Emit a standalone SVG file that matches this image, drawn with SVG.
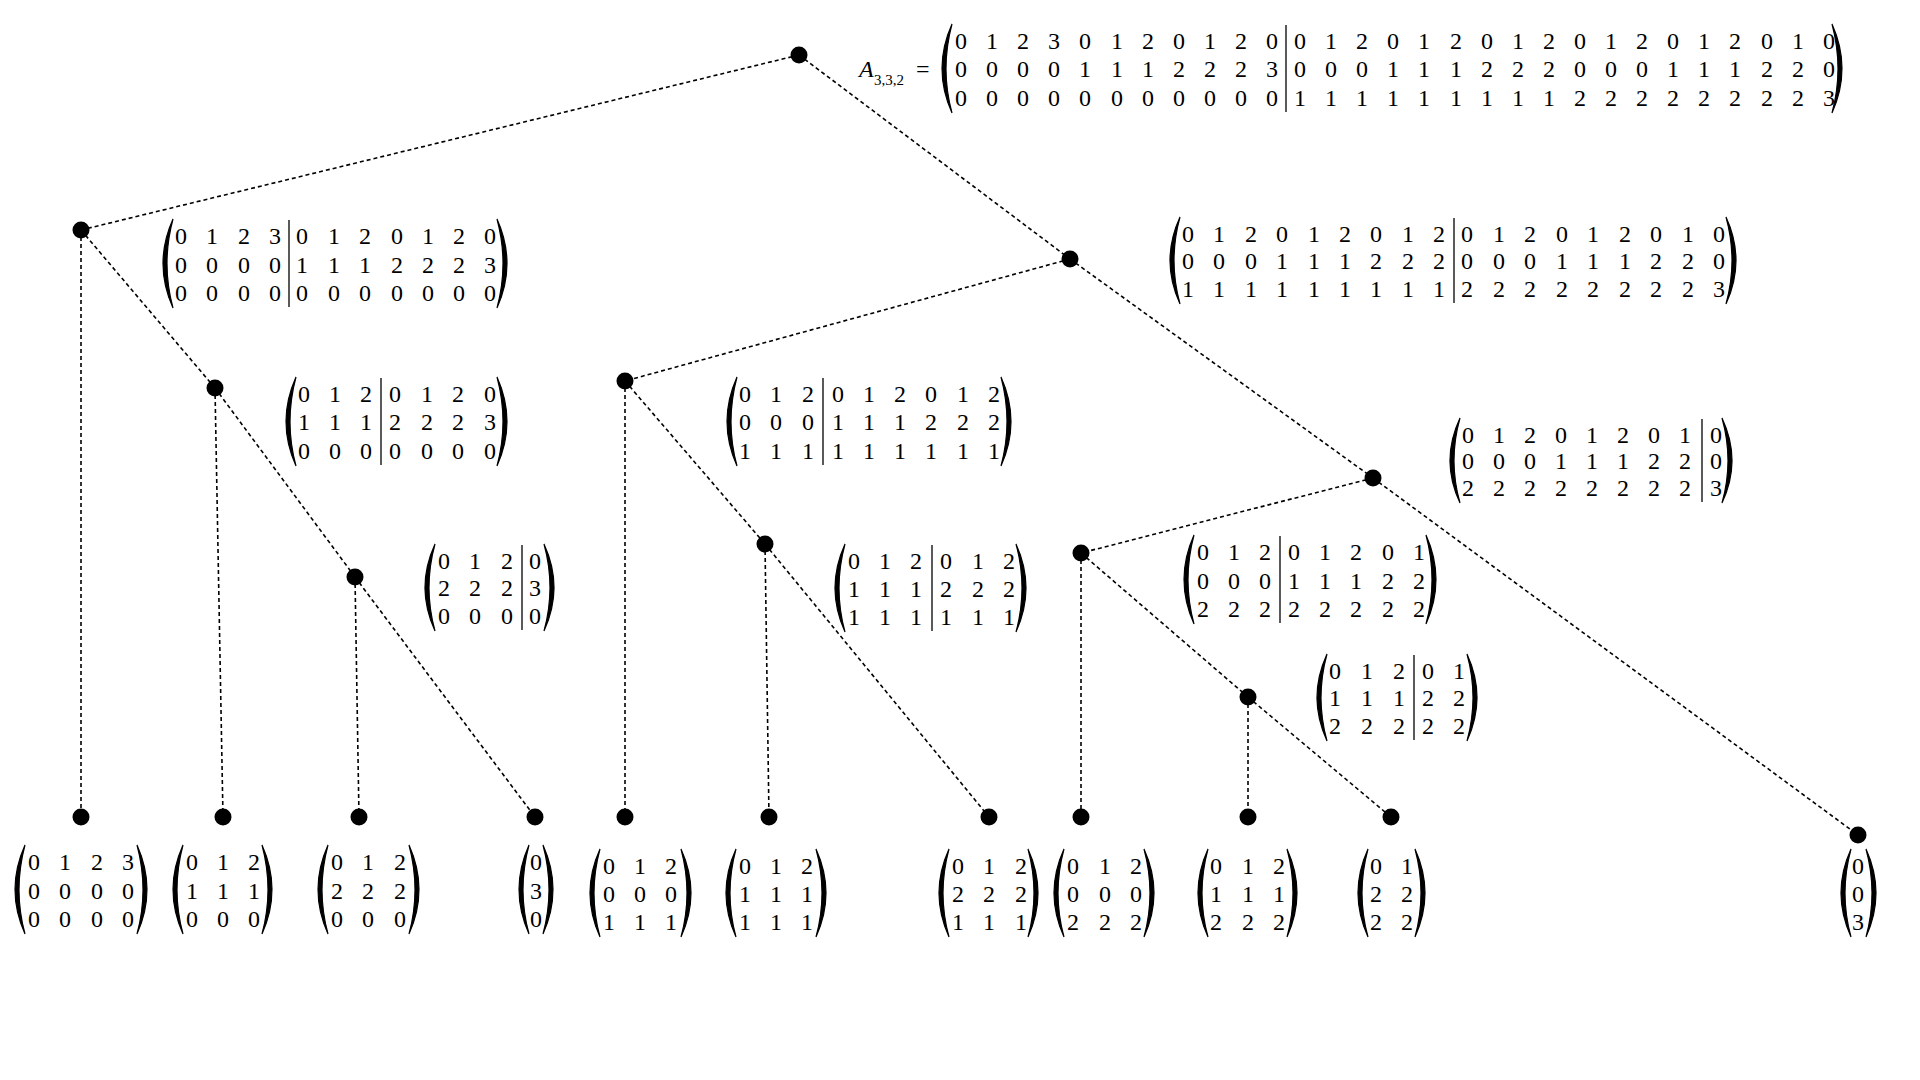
<svg xmlns="http://www.w3.org/2000/svg" width="1920" height="1080" viewBox="0 0 1920 1080">
<style>
text{font-family:'Liberation Serif','Times New Roman','DejaVu Serif',serif}
.d{font-size:24px;text-anchor:middle;fill:#000}
.p{fill:#000;stroke:#000;stroke-width:1.2}
.b{stroke:#000;stroke-width:1.3}
.e{stroke:#000;stroke-width:1.6;stroke-dasharray:4 3;fill:none}
.n{fill:#000}
</style>
<rect width="1920" height="1080" fill="#fff"/>
<g id="connectors">
<line class="e" x1="799" y1="55" x2="81" y2="230"/>
<line class="e" x1="799" y1="55" x2="1070" y2="259"/>
<line class="e" x1="81" y1="230" x2="81" y2="817"/>
<line class="e" x1="81" y1="230" x2="215" y2="388"/>
<line class="e" x1="215" y1="388" x2="223" y2="817"/>
<line class="e" x1="215" y1="388" x2="355" y2="577"/>
<line class="e" x1="355" y1="577" x2="359" y2="817"/>
<line class="e" x1="355" y1="577" x2="535" y2="817"/>
<line class="e" x1="1070" y1="259" x2="625" y2="381"/>
<line class="e" x1="1070" y1="259" x2="1373" y2="478"/>
<line class="e" x1="625" y1="381" x2="625" y2="817"/>
<line class="e" x1="625" y1="381" x2="765" y2="544"/>
<line class="e" x1="765" y1="544" x2="769" y2="817"/>
<line class="e" x1="765" y1="544" x2="989" y2="817"/>
<line class="e" x1="1373" y1="478" x2="1081" y2="553"/>
<line class="e" x1="1373" y1="478" x2="1858" y2="835"/>
<line class="e" x1="1081" y1="553" x2="1081" y2="817"/>
<line class="e" x1="1081" y1="553" x2="1248" y2="697"/>
<line class="e" x1="1248" y1="697" x2="1248" y2="817"/>
<line class="e" x1="1248" y1="697" x2="1391" y2="817"/>
</g>
<g id="nodes">
<circle class="n" cx="799" cy="55" r="8.5"/>
<circle class="n" cx="81" cy="230" r="8.5"/>
<circle class="n" cx="1070" cy="259" r="8.5"/>
<circle class="n" cx="215" cy="388" r="8.5"/>
<circle class="n" cx="355" cy="577" r="8.5"/>
<circle class="n" cx="625" cy="381" r="8.5"/>
<circle class="n" cx="1373" cy="478" r="8.5"/>
<circle class="n" cx="765" cy="544" r="8.5"/>
<circle class="n" cx="1081" cy="553" r="8.5"/>
<circle class="n" cx="1248" cy="697" r="8.5"/>
<circle class="n" cx="81" cy="817" r="8.5"/>
<circle class="n" cx="223" cy="817" r="8.5"/>
<circle class="n" cx="359" cy="817" r="8.5"/>
<circle class="n" cx="535" cy="817" r="8.5"/>
<circle class="n" cx="625" cy="817" r="8.5"/>
<circle class="n" cx="769" cy="817" r="8.5"/>
<circle class="n" cx="989" cy="817" r="8.5"/>
<circle class="n" cx="1081" cy="817" r="8.5"/>
<circle class="n" cx="1248" cy="817" r="8.5"/>
<circle class="n" cx="1391" cy="817" r="8.5"/>
<circle class="n" cx="1858" cy="835" r="8.5"/>
</g>
<g id="m-root">
<text x="859" y="77" font-size="24" font-style="italic">A</text>
<text x="874" y="85" font-size="15">3,3,2</text>
<text x="916" y="77" font-size="24">=</text>
<path class="p" d="M952 24 Q932 68.5 952 113 Q940 68.5 952 24Z"/>
<path class="p" d="M1832 24 Q1852 68.5 1832 113 Q1844 68.5 1832 24Z"/>
<line class="b" x1="1286" y1="25" x2="1286" y2="112"/>
<text class="d" x="961 992 1023 1054 1085 1117 1148 1179 1210 1241 1272 1300 1331 1362 1393 1424 1456 1487 1518 1549 1580 1611 1642 1673 1704 1735 1767 1798 1829" y="49">01230120120012012012012012010</text>
<text class="d" x="961 992 1023 1054 1085 1117 1148 1179 1210 1241 1272 1300 1331 1362 1393 1424 1456 1487 1518 1549 1580 1611 1642 1673 1704 1735 1767 1798 1829" y="77">00001112223000111222000111220</text>
<text class="d" x="961 992 1023 1054 1085 1117 1148 1179 1210 1241 1272 1300 1331 1362 1393 1424 1456 1487 1518 1549 1580 1611 1642 1673 1704 1735 1767 1798 1829" y="106">00000000000111111111222222223</text>
</g>
<g id="m-l1">
<path class="p" d="M173 219 Q153 263.5 173 308 Q161 263.5 173 219Z"/>
<path class="p" d="M497 219 Q517 263.5 497 308 Q509 263.5 497 219Z"/>
<line class="b" x1="289" y1="220" x2="289" y2="307"/>
<text class="d" x="181 212 244 275 302 334 365 397 428 459 490" y="244">01230120120</text>
<text class="d" x="181 212 244 275 302 334 365 397 428 459 490" y="273">00001112223</text>
<text class="d" x="181 212 244 275 302 334 365 397 428 459 490" y="301">00000000000</text>
</g>
<g id="m-r1">
<path class="p" d="M1180 217 Q1160 260.5 1180 304 Q1168 260.5 1180 217Z"/>
<path class="p" d="M1726 217 Q1746 260.5 1726 304 Q1738 260.5 1726 217Z"/>
<line class="b" x1="1454" y1="218" x2="1454" y2="303"/>
<text class="d" x="1188 1219 1251 1282 1314 1345 1376 1408 1439 1467 1499 1530 1562 1593 1625 1656 1688 1719" y="242">012012012012012010</text>
<text class="d" x="1188 1219 1251 1282 1314 1345 1376 1408 1439 1467 1499 1530 1562 1593 1625 1656 1688 1719" y="269">000111222000111220</text>
<text class="d" x="1188 1219 1251 1282 1314 1345 1376 1408 1439 1467 1499 1530 1562 1593 1625 1656 1688 1719" y="297">111111111222222223</text>
</g>
<g id="m-l1a">
<path class="p" d="M296 377 Q276 421.5 296 466 Q284 421.5 296 377Z"/>
<path class="p" d="M497 377 Q517 421.5 497 466 Q509 421.5 497 377Z"/>
<line class="b" x1="381" y1="378" x2="381" y2="465"/>
<text class="d" x="304 335 366 395 427 458 490" y="402">0120120</text>
<text class="d" x="304 335 366 395 427 458 490" y="430">1112223</text>
<text class="d" x="304 335 366 395 427 458 490" y="459">0000000</text>
</g>
<g id="m-r1a">
<path class="p" d="M737 377 Q717 421.5 737 466 Q725 421.5 737 377Z"/>
<path class="p" d="M1001 377 Q1021 421.5 1001 466 Q1013 421.5 1001 377Z"/>
<line class="b" x1="823" y1="378" x2="823" y2="465"/>
<text class="d" x="745 776 808 838 869 900 931 963 994" y="402">012012012</text>
<text class="d" x="745 776 808 838 869 900 931 963 994" y="430">000111222</text>
<text class="d" x="745 776 808 838 869 900 931 963 994" y="459">111111111</text>
</g>
<g id="m-r1b">
<path class="p" d="M1460 418 Q1440 460.5 1460 503 Q1448 460.5 1460 418Z"/>
<path class="p" d="M1722 418 Q1742 460.5 1722 503 Q1734 460.5 1722 418Z"/>
<line class="b" x1="1702" y1="419" x2="1702" y2="502"/>
<text class="d" x="1468 1499 1530 1561 1592 1623 1654 1685 1716" y="443">012012010</text>
<text class="d" x="1468 1499 1530 1561 1592 1623 1654 1685 1716" y="469">000111220</text>
<text class="d" x="1468 1499 1530 1561 1592 1623 1654 1685 1716" y="496">222222223</text>
</g>
<g id="m-l1b">
<path class="p" d="M435 544 Q415 587.5 435 631 Q423 587.5 435 544Z"/>
<path class="p" d="M544 544 Q564 587.5 544 631 Q556 587.5 544 544Z"/>
<line class="b" x1="522" y1="545" x2="522" y2="630"/>
<text class="d" x="444 475 507 535" y="569">0120</text>
<text class="d" x="444 475 507 535" y="596">2223</text>
<text class="d" x="444 475 507 535" y="624">0000</text>
</g>
<g id="m-r1a1">
<path class="p" d="M845 544 Q825 588 845 632 Q833 588 845 544Z"/>
<path class="p" d="M1016 544 Q1036 588 1016 632 Q1028 588 1016 544Z"/>
<line class="b" x1="932" y1="545" x2="932" y2="631"/>
<text class="d" x="854 885 916 946 978 1009" y="569">012012</text>
<text class="d" x="854 885 916 946 978 1009" y="597">111222</text>
<text class="d" x="854 885 916 946 978 1009" y="625">111111</text>
</g>
<g id="m-r1b1">
<path class="p" d="M1194 535 Q1174 579.5 1194 624 Q1182 579.5 1194 535Z"/>
<path class="p" d="M1426 535 Q1446 579.5 1426 624 Q1438 579.5 1426 535Z"/>
<line class="b" x1="1280" y1="536" x2="1280" y2="623"/>
<text class="d" x="1203 1234 1265 1294 1325 1356 1388 1419" y="560">01201201</text>
<text class="d" x="1203 1234 1265 1294 1325 1356 1388 1419" y="589">00011122</text>
<text class="d" x="1203 1234 1265 1294 1325 1356 1388 1419" y="617">22222222</text>
</g>
<g id="m-r1b1b">
<path class="p" d="M1327 654 Q1307 697.5 1327 741 Q1315 697.5 1327 654Z"/>
<path class="p" d="M1467 654 Q1487 697.5 1467 741 Q1479 697.5 1467 654Z"/>
<line class="b" x1="1414" y1="655" x2="1414" y2="740"/>
<text class="d" x="1335 1367 1399 1428 1459" y="679">01201</text>
<text class="d" x="1335 1367 1399 1428 1459" y="706">11122</text>
<text class="d" x="1335 1367 1399 1428 1459" y="734">22222</text>
</g>
<g id="leaf1">
<path class="p" d="M25 845 Q5 889.5 25 934 Q13 889.5 25 845Z"/>
<path class="p" d="M137 845 Q157 889.5 137 934 Q149 889.5 137 845Z"/>
<text class="d" x="34 65 97 128" y="870">0123</text>
<text class="d" x="34 65 97 128" y="899">0000</text>
<text class="d" x="34 65 97 128" y="927">0000</text>
</g>
<g id="leaf2">
<path class="p" d="M183 845 Q163 889.5 183 934 Q171 889.5 183 845Z"/>
<path class="p" d="M262 845 Q282 889.5 262 934 Q274 889.5 262 845Z"/>
<text class="d" x="192 223 254" y="870">012</text>
<text class="d" x="192 223 254" y="899">111</text>
<text class="d" x="192 223 254" y="927">000</text>
</g>
<g id="leaf3">
<path class="p" d="M328 845 Q308 889.5 328 934 Q316 889.5 328 845Z"/>
<path class="p" d="M409 845 Q429 889.5 409 934 Q421 889.5 409 845Z"/>
<text class="d" x="337 368 400" y="870">012</text>
<text class="d" x="337 368 400" y="899">222</text>
<text class="d" x="337 368 400" y="927">000</text>
</g>
<g id="leaf4">
<path class="p" d="M529 845 Q509 889.5 529 934 Q517 889.5 529 845Z"/>
<path class="p" d="M543 845 Q563 889.5 543 934 Q555 889.5 543 845Z"/>
<text class="d" x="536" y="870">0</text>
<text class="d" x="536" y="899">3</text>
<text class="d" x="536" y="927">0</text>
</g>
<g id="leaf5">
<path class="p" d="M600 849 Q580 893 600 937 Q588 893 600 849Z"/>
<path class="p" d="M681 849 Q701 893 681 937 Q693 893 681 849Z"/>
<text class="d" x="609 640 671" y="874">012</text>
<text class="d" x="609 640 671" y="902">000</text>
<text class="d" x="609 640 671" y="930">111</text>
</g>
<g id="leaf6">
<path class="p" d="M736 849 Q716 893 736 937 Q724 893 736 849Z"/>
<path class="p" d="M816 849 Q836 893 816 937 Q828 893 816 849Z"/>
<text class="d" x="745 776 807" y="874">012</text>
<text class="d" x="745 776 807" y="902">111</text>
<text class="d" x="745 776 807" y="930">111</text>
</g>
<g id="leaf7">
<path class="p" d="M949 849 Q929 893 949 937 Q937 893 949 849Z"/>
<path class="p" d="M1028 849 Q1048 893 1028 937 Q1040 893 1028 849Z"/>
<text class="d" x="958 989 1021" y="874">012</text>
<text class="d" x="958 989 1021" y="902">222</text>
<text class="d" x="958 989 1021" y="930">111</text>
</g>
<g id="leaf8">
<path class="p" d="M1064 849 Q1044 893 1064 937 Q1052 893 1064 849Z"/>
<path class="p" d="M1144 849 Q1164 893 1144 937 Q1156 893 1144 849Z"/>
<text class="d" x="1073 1105 1136" y="874">012</text>
<text class="d" x="1073 1105 1136" y="902">000</text>
<text class="d" x="1073 1105 1136" y="930">222</text>
</g>
<g id="leaf9">
<path class="p" d="M1208 849 Q1188 893 1208 937 Q1196 893 1208 849Z"/>
<path class="p" d="M1287 849 Q1307 893 1287 937 Q1299 893 1287 849Z"/>
<text class="d" x="1216 1248 1279" y="874">012</text>
<text class="d" x="1216 1248 1279" y="902">111</text>
<text class="d" x="1216 1248 1279" y="930">222</text>
</g>
<g id="leaf10">
<path class="p" d="M1368 849 Q1348 893 1368 937 Q1356 893 1368 849Z"/>
<path class="p" d="M1415 849 Q1435 893 1415 937 Q1427 893 1415 849Z"/>
<text class="d" x="1376 1407" y="874">01</text>
<text class="d" x="1376 1407" y="902">22</text>
<text class="d" x="1376 1407" y="930">22</text>
</g>
<g id="leaf11">
<path class="p" d="M1851 849 Q1831 893 1851 937 Q1839 893 1851 849Z"/>
<path class="p" d="M1866 849 Q1886 893 1866 937 Q1878 893 1866 849Z"/>
<text class="d" x="1858" y="874">0</text>
<text class="d" x="1858" y="902">0</text>
<text class="d" x="1858" y="930">3</text>
</g>
</svg>
